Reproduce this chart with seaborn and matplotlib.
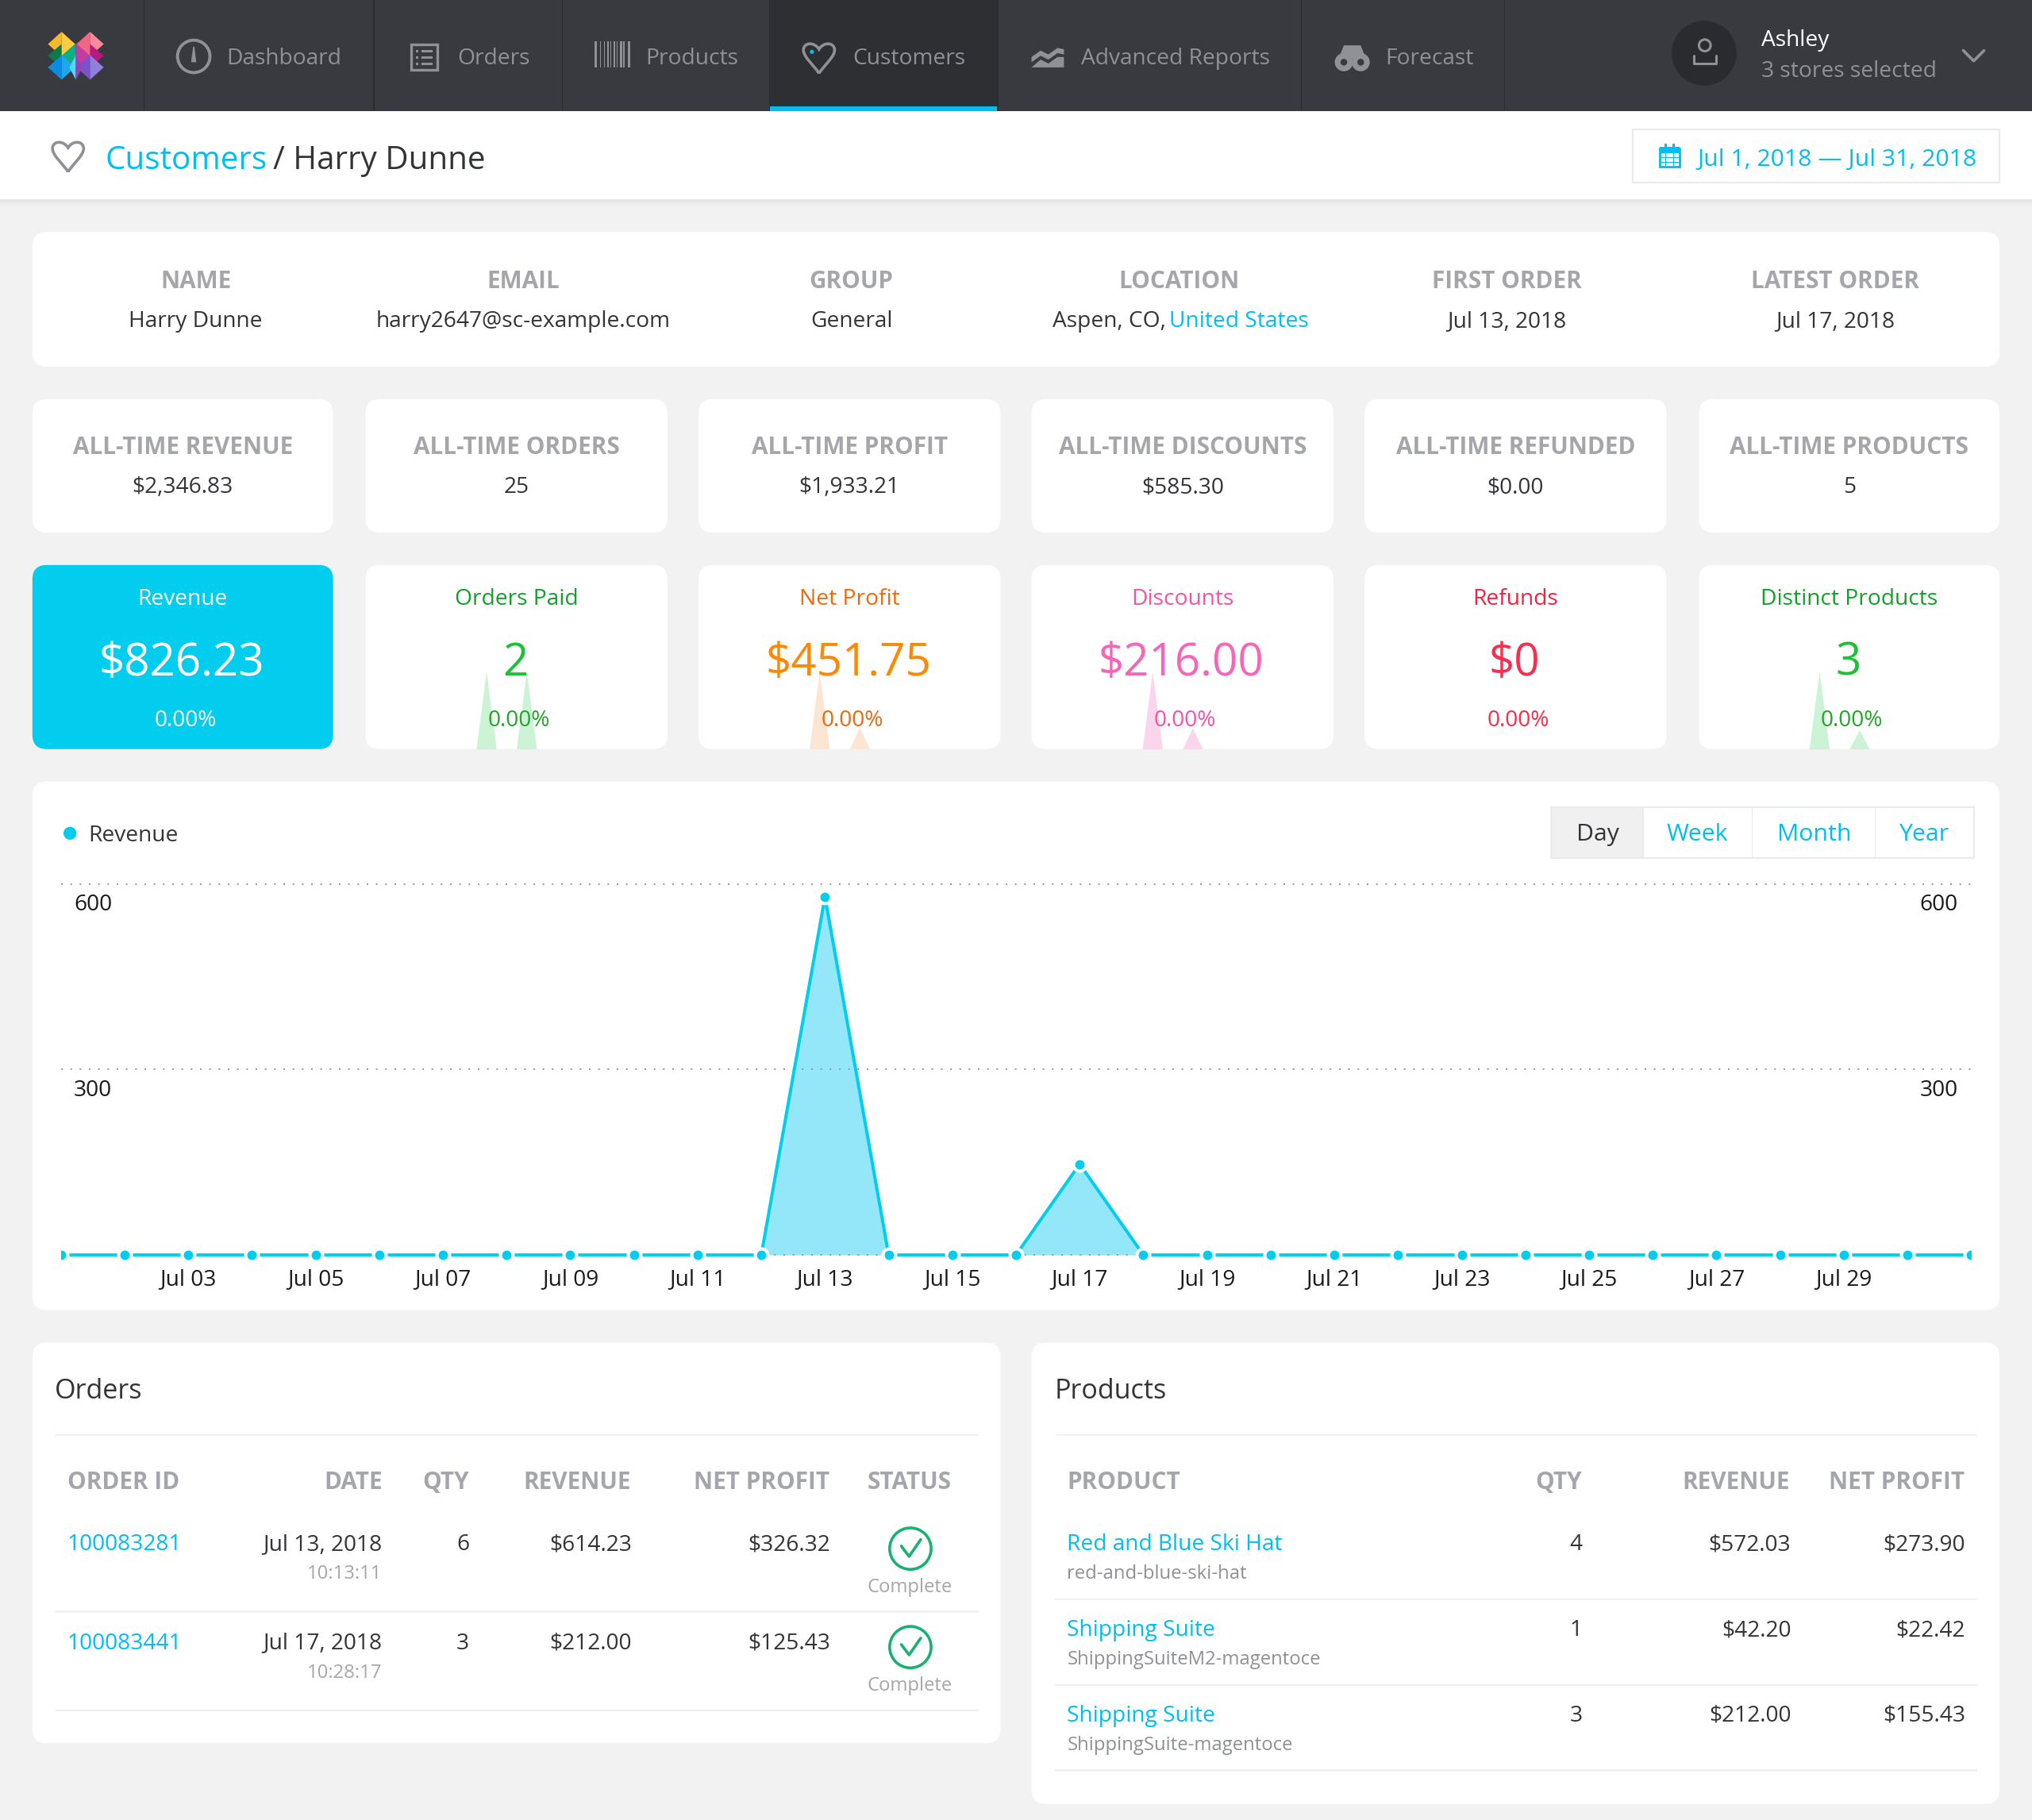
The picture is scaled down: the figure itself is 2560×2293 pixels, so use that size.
"""Customer detail dashboard, redrawn with seaborn and matplotlib."""

import matplotlib
matplotlib.use("Agg")
import matplotlib.pyplot as plt
import matplotlib.transforms as mtrans
from matplotlib.patches import Circle, FancyBboxPatch, Polygon, PathPatch, Rectangle
from matplotlib.path import Path
import pandas as pd
import seaborn as sns

# ---- data ----
days = list(range(1, 32))
revenue = [0, 0, 0, 0, 0, 0, 0, 0, 0, 0, 0, 0, 579, 0, 0, 0, 147, 0, 0, 0,
           0, 0, 0, 0, 0, 0, 0, 0, 0, 0, 0]
orders_spark = [0, 0, 0, 0, 0, 0, 0, 0, 0, 0, 0, 0, 1, 0, 0, 0, 1, 0, 0, 0,
                0, 0, 0, 0, 0, 0, 0, 0, 0, 0, 0]
profit_spark = [0, 0, 0, 0, 0, 0, 0, 0, 0, 0, 0, 0, 326, 0, 0, 0, 92, 0, 0, 0,
                0, 0, 0, 0, 0, 0, 0, 0, 0, 0, 0]
discount_spark = [0, 0, 0, 0, 0, 0, 0, 0, 0, 0, 0, 0, 170, 0, 0, 0, 46, 0, 0, 0,
                  0, 0, 0, 0, 0, 0, 0, 0, 0, 0, 0]
products_spark = [0, 0, 0, 0, 0, 0, 0, 0, 0, 0, 0, 0, 2, 0, 0, 0, 0.5, 0, 0, 0,
                  0, 0, 0, 0, 0, 0, 0, 0, 0, 0, 0]
tick_days = list(range(3, 30, 2))
tick_labels = ["Jul %02d" % d for d in tick_days]
y_ticks = [0, 300, 600]

nav_items = ["Dashboard", "Orders", "Products", "Customers", "Advanced Reports", "Forecast"]
info_labels = ["NAME", "EMAIL", "GROUP", "LOCATION", "FIRST ORDER", "LATEST ORDER"]
info_values = ["Harry Dunne", "harry2647@sc-example.com", "General", "", "Jul 13, 2018", "Jul 17, 2018"]
alltime_labels = ["ALL-TIME REVENUE", "ALL-TIME ORDERS", "ALL-TIME PROFIT",
                  "ALL-TIME DISCOUNTS", "ALL-TIME REFUNDED", "ALL-TIME PRODUCTS"]
alltime_values = ["$2,346.83", "25", "$1,933.21", "$585.30", "$0.00", "5"]
kpi_labels = ["Revenue", "Orders Paid", "Net Profit", "Discounts", "Refunds", "Distinct Products"]
kpi_values = ["$826.23", "2", "$451.75", "$216.00", "$0", "3"]

order_ids = ["100083281", "100083441"]
order_dates = ["Jul 13, 2018", "Jul 17, 2018"]
order_times = ["10:13:11", "10:28:17"]
order_qty = ["6", "3"]
order_revenue = ["$614.23", "$212.00"]
order_profit = ["$326.32", "$125.43"]

product_names = ["Red and Blue Ski Hat", "Shipping Suite", "Shipping Suite"]
product_skus = ["red-and-blue-ski-hat", "ShippingSuiteM2-magentoce", "ShippingSuite-magentoce"]
product_qty = ["4", "1", "3"]
product_revenue = ["$572.03", "$42.20", "$212.00"]
product_profit = ["$273.90", "$22.42", "$155.43"]

# ---- colours ----
PAGE = "#F2F2F2"
NAV = "#393A3F"
NAV_ACTIVE = "#2E2F33"
NAV_LINE = "#2B2C30"
NAV_TEXT = "#8F9196"
BLUE = "#00BDF2"
CYAN = "#02CDEE"
DARK = "#333438"
LABEL = "#A4A6AC"
GREEN_OK = "#17B26F"

# the layout below is in the coordinates of a 1568 wide page
W, H = 1568.0, 1404.4
PX = 2560.0 / W
BODY = 17.2
SMALL = 14.6
HEAD = 18.2


def fs(px):
    # css pixel size on the 1568 page -> points at dpi 100
    return px * PX * 72 / 100


sns.set_theme(style="white")
plt.rcParams["font.family"] = ["Open Sans", "DejaVu Sans"]

fig = plt.figure(figsize=(25.6, 22.93), dpi=100, facecolor=PAGE)


def px_axes(x0, y0, x1, y1, zorder):
    ax = fig.add_axes([x0 / W, 1 - y1 / H, (x1 - x0) / W, (y1 - y0) / H], zorder=zorder)
    ax.patch.set_alpha(0)
    return ax


bg = px_axes(0, 0, W, H, 0)
fg = px_axes(0, 0, W, H, 5)
for a in (bg, fg):
    a.set_xlim(0, W)
    a.set_ylim(H, 0)
    a.axis("off")


def rect(x0, y0, x1, y1, color, ax=bg, **kw):
    ax.add_patch(Rectangle((x0, y0), x1 - x0, y1 - y0, facecolor=color, edgecolor="none", **kw))


def card(x0, y0, x1, y1, color="white", r=11):
    bg.add_patch(FancyBboxPatch((x0, y0), x1 - x0, y1 - y0, facecolor=color, edgecolor="none",
                                boxstyle="round,pad=0,rounding_size=%d" % r))


def txt(x, y, s, size=BODY, color=DARK, ha="left", weight="normal", ax=fg):
    ax.text(x, y, s, fontsize=fs(size), color=color, ha=ha, va="center_baseline", fontweight=weight)


def heart(cx, cy, s, color, lw, ax=bg):
    verts = [(0, 1.05), (-0.35, 0.5), (-1.0, 0.0), (-1.0, -0.45), (-1.0, -0.95), (-0.3, -1.0),
             (0, -0.5), (0.3, -1.0), (1.0, -0.95), (1.0, -0.45), (1.0, 0.0), (0.35, 0.5), (0, 1.05)]
    codes = [Path.MOVETO] + [Path.CURVE4] * 12
    verts = [(cx + s * a, cy + s * b) for a, b in verts]
    ax.add_patch(PathPatch(Path(verts, codes), facecolor="none", edgecolor=color, lw=lw))


def diamond(cx, cy, hw, hh, c_left, c_right):
    bg.add_patch(Polygon([(cx, cy - hh), (cx - hw, cy), (cx, cy + hh)], facecolor=c_left, edgecolor="none"))
    bg.add_patch(Polygon([(cx, cy - hh), (cx + hw, cy), (cx, cy + hh)], facecolor=c_right, edgecolor="none"))


def check_icon(cx, cy):
    bg.add_patch(Circle((cx, cy), 16, facecolor="white", edgecolor=GREEN_OK, lw=2.6))
    bg.plot([cx - 7, cx - 1, cx + 8], [cy - 2, cy + 6, cy - 7], color=GREEN_OK, lw=2.6)


# ---- top bar ----
rect(0, 0, W, 85.7, NAV)
rect(594, 0, 770, 85.7, NAV_ACTIVE)
rect(594, 82, 770, 85.7, BLUE)
for x in [111, 288.5, 434, 594, 770, 1004, 1161]:
    rect(x - 0.4, 0, x + 0.4, 85.7, NAV_LINE)

diamond(47.5, 34, 10.5, 9.5, "#F7B82B", "#FFCB45")
diamond(69.5, 34, 10.5, 9.5, "#EE6785", "#FF8A9B")
bg.add_patch(Polygon([(37, 43), (47.5, 34), (47.5, 52)], facecolor="#0A7A4B", edgecolor="none"))
bg.add_patch(Polygon([(80, 43), (69.5, 34), (69.5, 52)], facecolor="#B7197F", edgecolor="none"))
diamond(58.5, 43, 11, 9.5, "#0FAE87", "#C43C9F")
diamond(47.5, 52, 10.5, 9.5, "#0B8CE0", "#1FA6EF")
diamond(69.5, 52, 10.5, 9.5, "#7D52C8", "#8F80DC")
diamond(58.5, 52, 5, 9.5, "#4FD9F5", "#9A3FB8")

# gauge
bg.add_patch(Circle((149.5, 43.5), 12.5, facecolor="none", edgecolor=NAV_TEXT, lw=2.8))
bg.add_patch(Polygon([(147.5, 48), (149, 36), (150, 36), (151.5, 48)], facecolor=NAV_TEXT, edgecolor="none"))
# order list
bg.add_patch(Rectangle((317.5, 34.5), 20, 19.5, facecolor="none", edgecolor=NAV_TEXT, lw=2.4))
for yy in [39.5, 44.5, 49.5]:
    rect(321, yy - 0.9, 323, yy + 0.9, NAV_TEXT)
    rect(325, yy - 0.9, 334, yy + 0.9, NAV_TEXT)
# barcode
for x, w in zip([459, 463, 466, 468.5, 471, 473.5, 476, 478.5, 481, 484.5],
                [1.6, 0.8, 0.8, 1.4, 0.8, 1.4, 0.8, 1.4, 0.8, 1.6]):
    rect(x, 32, x + w, 52, NAV_TEXT)
# customers heart
heart(632, 44, 12, NAV_TEXT, 2.6)
bg.add_patch(Circle((626.5, 40), 1.6, facecolor=BLUE, edgecolor="none"))
# area chart icon
bg.add_patch(Polygon([(796, 44), (803, 39), (809, 42), (816, 37), (821, 38), (821, 42), (816, 41),
                      (809, 46), (803, 43), (796, 48)], facecolor=NAV_TEXT, edgecolor="none"))
bg.add_patch(Polygon([(796, 52), (803, 46), (809, 49), (816, 44), (821, 44), (821, 52)],
                     facecolor=NAV_TEXT, edgecolor="none"))
# binoculars
bg.add_patch(Polygon([(1033, 45), (1037, 35), (1041, 35), (1046, 35), (1050, 35), (1054, 45)],
                     facecolor=NAV_TEXT, edgecolor="none"))
for x in [1037, 1050]:
    bg.add_patch(Circle((x, 48), 7, facecolor=NAV_TEXT, edgecolor="none"))
    bg.add_patch(Circle((x, 48), 2.6, facecolor=NAV, edgecolor="none"))
# avatar + chevron
bg.add_patch(Circle((1315, 41), 25, facecolor="#2A2B2E", edgecolor="none"))
bg.add_patch(Circle((1315.5, 35), 4.5, facecolor="none", edgecolor=NAV_TEXT, lw=2.2))
bg.plot([1307, 1307, 1324, 1324], [43, 49, 49, 43], color=NAV_TEXT, lw=2.2)
bg.plot([1515, 1523, 1531], [39, 47, 39], color=NAV_TEXT, lw=2.6)

for x, name in zip([175, 353, 498, 658, 834, 1069], nav_items):
    txt(x, 43, name, color=NAV_TEXT)
txt(1359, 29, "Ashley", color="white")
txt(1359, 53, "3 stores selected", color=NAV_TEXT)

# ---- page header ----
for i, a in enumerate([0.05, 0.04, 0.03, 0.02, 0.01]):
    rect(0, 154 + i, W, 155 + i, "black", alpha=a)
rect(0, 85.7, W, 154, "white")
heart(52.5, 120, 12, "#8E9095", 2.6)
txt(81, 121, "Customers", size=24.7, color=BLUE)
txt(211, 121, "/ Harry Dunne", size=24.7)
bg.add_patch(Rectangle((1260, 100), 283, 41, facecolor="white", edgecolor="#EBEBEB", lw=1.6))
# calendar icon
bg.add_patch(Rectangle((1281, 114.5), 15, 14, facecolor="none", edgecolor=BLUE, lw=2))
rect(1281, 113.5, 1296, 118, BLUE)
for x in [1285.5, 1291.5]:
    rect(x - 0.8, 111, x + 0.8, 115, BLUE)
    rect(x - 0.3, 118, x + 0.3, 128, BLUE)
for yy in [121.5, 125]:
    rect(1281, yy - 0.3, 1296, yy + 0.3, BLUE)
txt(1310, 121, "Jul 1, 2018 — Jul 31, 2018", size=18.5, color=BLUE)

# ---- info card ----
card(25, 179, 1543, 283)
for x, label, value in zip([151, 404, 657, 910, 1163, 1416], info_labels, info_values):
    txt(x, 215, label, size=HEAD, color=LABEL, ha="center", weight="bold")
    txt(x, 246, value, ha="center")
txt(812, 246, "Aspen, CO,")
txt(902, 246, "United States", color=BLUE)

# ---- kpi cards ----
card_x = [(25, 257), (282, 515), (539, 772), (796, 1029), (1053, 1286), (1311, 1543)]
title_colors = ["white", "#12A02A", "#EC6A10", "#F254A8", "#EF2340", "#12A02A"]
big_colors = ["white", "#1DC134", "#FF8800", "#F566B8", "#F5304F", "#1DC134"]
pct_colors = ["white", "#25A52A", "#E86A10", "#EE55B0", "#F0304A", "#25A52A"]
for (x0, x1), label, value in zip(card_x, alltime_labels, alltime_values):
    cx = (x0 + x1) / 2
    card(x0, 308, x1, 411)
    txt(cx, 343, label, size=HEAD, color=LABEL, ha="center", weight="bold")
    txt(cx, 374, value, ha="center")
for i, (x0, x1) in enumerate(card_x):
    cx = (x0 + x1) / 2
    card(x0, 436, x1, 578, color=CYAN if i == 0 else "white")
    txt(cx, 460, kpi_labels[i], color=title_colors[i], ha="center")
    txt(cx - 1, 508, kpi_values[i], size=34.6, color=big_colors[i], ha="center")
    txt(cx + 2, 554, "0.00%", color=pct_colors[i], ha="center")

# sparklines sit behind the card text and are cut by the card bottom
sparks = [(1, orders_spark, "#CDF3D6", 1.0), (2, profit_spark, "#FCE5D3", 326),
          (3, discount_spark, "#FBD5EC", 170), (5, products_spark, "#CDF3D6", 2)]
for idx, values, color, peak in sparks:
    x0, x1 = card_x[idx]
    sp = px_axes(x0, 518, x1, 578, 2)
    spark_df = pd.DataFrame({"day": days, "value": values})
    sns.lineplot(data=spark_df, x="day", y="value", color=color, lw=0, ax=sp)
    sp.fill_between(days, values, 0, color=color, lw=0)
    sp.set_xlim(1, 31)
    sp.set_ylim(0, peak)
    sp.axis("off")

# ---- revenue chart ----
card(25, 603, 1543, 1011)
y0_px, y600_px = 968.4, 682.0
unit = (y0_px - y600_px) / 600.0
chart = px_axes(47, y600_px - 10, 1521, y0_px + 10, 3)
chart_df = pd.DataFrame({"day": days, "revenue": revenue})
chart.fill_between(days, revenue, 0, color="#93E7F8", lw=0, zorder=1)
chart.set_yticks(y_ticks)
chart.set_xticks(tick_days)
chart.set_xlim(1, 31)
chart.set_ylim(-10 / unit, 600 + 10 / unit)
chart.grid(axis="y", color="#999999", lw=1.4, linestyle=(0, (1, 5)), zorder=2)
chart.grid(axis="x", visible=False)
chart.set_axisbelow(False)
sns.lineplot(data=chart_df, x="day", y="revenue", color=CYAN, lw=2.9, marker="o", markersize=11.5,
             markerfacecolor=CYAN, markeredgecolor="white", markeredgewidth=2.9, zorder=3, ax=chart)
chart.set_xlabel("")
chart.set_ylabel("")
chart.set_xticklabels(tick_labels, fontsize=fs(BODY), color="#1A1A1A")
chart.set_yticklabels(["", "300", "600"], fontsize=fs(BODY), color="#1A1A1A")
chart.tick_params(axis="x", length=0, pad=fs(0.5))
chart.tick_params(axis="y", length=0, pad=-fs(39.5), labelleft=True, labelright=True)
down = mtrans.ScaledTranslation(0, -7.5 * PX / 100, fig.dpi_scale_trans)
for tick in chart.yaxis.get_major_ticks():
    tick.label1.set_transform(tick.label1.get_transform() + down)
    tick.label2.set_transform(tick.label2.get_transform() + down)
    tick.label1.set_va("top")
    tick.label2.set_va("top")
for side in chart.spines.values():
    side.set_visible(False)

bg.add_patch(Circle((54, 643), 5, facecolor=CYAN, edgecolor="none"))
txt(68, 643, "Revenue")

# range buttons
bg.add_patch(Rectangle((1197, 623), 326, 39, facecolor="white", edgecolor="#EAEAEA", lw=1.4))
rect(1197.6, 623.6, 1268, 661.4, "#F0F0F0")
for x in [1268, 1352, 1447]:
    rect(x - 0.5, 623, x + 0.5, 662, "#EAEAEA")
for x, label, color in zip([1233, 1310, 1400, 1485], ["Day", "Week", "Month", "Year"],
                           [DARK, BLUE, BLUE, BLUE]):
    txt(x, 642, label, size=18.5, color=color, ha="center")

# ---- orders table ----
card(25, 1036, 772, 1345)
txt(42, 1071, "Orders", size=20.9)
rect(42, 1106.5, 755, 1108, "#F2F2F2")
for x, ha, label in [(52, "left", "ORDER ID"), (295, "right", "DATE"), (362, "right", "QTY"),
                     (487, "right", "REVENUE"), (640, "right", "NET PROFIT"), (702, "center", "STATUS")]:
    txt(x, 1142, label, size=HEAD, color=LABEL, ha=ha, weight="bold")
for i, y in enumerate([1190, 1266]):
    txt(52, y, order_ids[i], color=BLUE)
    txt(295, y, order_dates[i], ha="right")
    txt(295, y + 23, order_times[i], size=SMALL, color=LABEL, ha="right")
    txt(362, y, order_qty[i], ha="right")
    txt(487.5, y, order_revenue[i], ha="right")
    txt(640.5, y, order_profit[i], ha="right")
    check_icon(702.5, y + 5)
    txt(702, y + 33, "Complete", size=SMALL, color=LABEL, ha="center")
    rect(42, y + 53, 755, y + 54.5, "#F0F0F0")

# ---- products table ----
card(796, 1036, 1543, 1392)
txt(814, 1071, "Products", size=20.9)
rect(814, 1106.5, 1526, 1108, "#F2F2F2")
for x, ha, label in [(823.5, "left", "PRODUCT"), (1221, "right", "QTY"),
                     (1381, "right", "REVENUE"), (1516, "right", "NET PROFIT")]:
    txt(x, 1142, label, size=HEAD, color=LABEL, ha=ha, weight="bold")
for i, y in enumerate([1190, 1256, 1322]):
    txt(823.5, y, product_names[i], color=BLUE)
    txt(823.5, y + 23, product_skus[i], size=SMALL, color="#8E9095")
    txt(1221, y, product_qty[i], ha="right")
    txt(1382, y, product_revenue[i], ha="right")
    txt(1516.5, y, product_profit[i], ha="right")
    rect(814, y + 43.5, 1526, y + 45, "#F0F0F0")

fig.savefig("out.png", dpi=100, facecolor=PAGE)
plt.close(fig)
